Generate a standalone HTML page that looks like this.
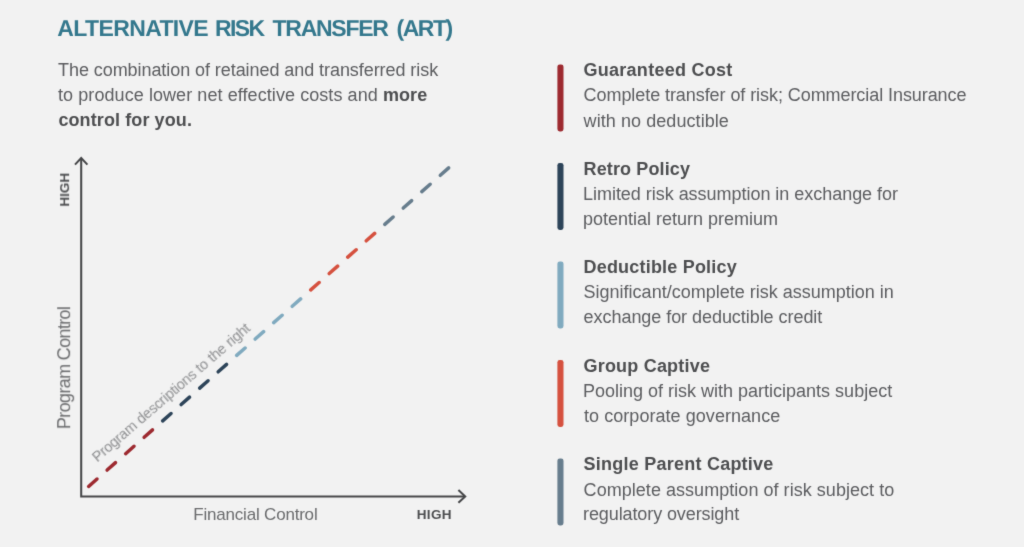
<!DOCTYPE html>
<html lang="en">
<head>
<meta charset="utf-8">
<title>Alternative Risk Transfer (ART)</title>
<style>
  html, body { margin: 0; padding: 0; }
  body {
    width: 1024px; height: 547px; overflow: hidden; position: relative;
    background: #f2f2f2;
    font-family: "Liberation Sans", sans-serif;
    color: #58595b;
  }
  .r { will-change: transform; }
  .t { position: absolute; white-space: nowrap; line-height: 1; margin: 0; padding: 0; }
  .h1 { font-size: 23px; text-rendering: geometricPrecision; font-weight: bold; color: #34788d; }
  .p  { font-size: 18px; color: #5c5d60; }
  .b  { font-weight: bold; color: #4d4e50; }
  .lh { font-size: 18px; letter-spacing: 0.2px; font-weight: bold; color: #4d4e50; }
  .ax { font-size: 17px; color: #6b6c6e; }
  .hi { font-size: 13.5px; font-weight: bold; color: #4d4e50; }
  #stage { position:absolute; left:0; top:0; width:1024px; height:547px; will-change: transform; filter: url(#soft); }
  svg { position: absolute; left: 0; top: 0; }
</style>
</head>
<body>
<svg width="0" height="0" style="position:absolute"><defs><filter id="soft" x="0" y="0" width="100%" height="100%" color-interpolation-filters="sRGB"><feConvolveMatrix order="3" kernelMatrix="0.0113 0.0838 0.0113 0.0838 0.6194 0.0838 0.0113 0.0838 0.0113" divisor="1" edgeMode="duplicate" preserveAlpha="false"/></filter></defs></svg>
<div id="stage">

<div class="t h1" id="h1a" style="left:57.3px; top:17px; letter-spacing:-0.62px;">ALTERNATIVE</div>
<div class="t h1" id="h1b" style="left:215px; top:17px; letter-spacing:-1.6px;">RISK</div>
<div class="t h1" id="h1c" style="left:272.6px; top:17px; letter-spacing:-1.28px;">TRANSFER</div>
<div class="t h1" id="h1d" style="left:396.5px; top:17px; letter-spacing:-1.5px;">(ART)</div>

<div class="t p" id="p1" style="left:58px; top:61px; letter-spacing:-0.065px;">The combination of retained and transferred risk</div>
<div class="t p" id="p2" style="left:58px; top:86px; letter-spacing:0.075px;">to produce lower net effective costs and <span class="b">more</span></div>
<div class="t p b" id="p3" style="left:58.4px; top:111px; letter-spacing:0.1px;">control for you.</div>

<svg width="1024" height="547" viewBox="0 0 1024 547">
  <g fill="none" stroke="#464749" stroke-width="2.05" stroke-linecap="butt" stroke-linejoin="miter">
    <path d="M81.2 158.3 V496.4 H465"/>
    <path d="M75 164.6 L81.2 158.1 L87.4 164.6"/>
    <path d="M458.4 490 L465.2 496.4 L458.4 502.8"/>
  </g>
  <g id="bars">
    <rect x="557.4" y="64.4" width="6.1" height="67" rx="2.3" fill="#9d2a30"/>
    <rect x="557.4" y="162.9" width="6.1" height="67" rx="2.3" fill="#2d4459"/>
    <rect x="557.4" y="261.4" width="6.1" height="67" rx="2.3" fill="#80aabf"/>
    <rect x="557.4" y="359.9" width="6.1" height="67" rx="2.3" fill="#d5513f"/>
    <rect x="557.4" y="458.4" width="6.1" height="67" rx="2.3" fill="#677d8d"/>
  </g>
  <g id="dashes" fill="none" stroke-width="3.5" stroke-linecap="round">
    <path stroke="#9d2a30" d="M88.61 486.44 L97.00 479.02 M107.12 470.06 L115.51 462.64 M125.63 453.69 L134.02 446.27 M144.14 437.31 L152.53 429.89"/>
    <path stroke="#2d4459" d="M162.65 420.93 L171.04 413.51 M181.16 404.56 L189.55 397.13 M199.67 388.18 L208.06 380.76 M218.18 371.80 L226.57 364.38"/>
    <path stroke="#80aabf" d="M236.69 355.43 L245.08 348.00 M255.20 339.05 L263.59 331.63 M273.71 322.67 L282.10 315.25 M292.22 306.30 L300.61 298.87"/>
    <path stroke="#d5513f" d="M310.73 289.92 L319.12 282.50 M329.24 273.54 L337.63 266.12 M347.75 257.17 L356.14 249.74 M366.26 240.79 L374.65 233.37"/>
    <path stroke="#677d8d" d="M384.77 224.41 L393.16 216.99 M403.28 208.03 L411.67 200.61 M421.79 191.66 L430.18 184.24 M440.30 175.28 L448.69 167.86"/>
  </g>
</svg>

<div class="t hi r" id="hiY" style="left:48px; top:182.9px; transform: rotate(-90deg); transform-origin: center;">HIGH</div>
<div class="t ax r" id="axY" style="left:2.9px; top:359.3px; font-size:18px; letter-spacing:-0.65px; transform: rotate(-90deg); transform-origin: center;">Program Control</div>
<div class="t ax" id="axX" style="left:193.3px; top:506px; letter-spacing:-0.2px;">Financial Control</div>
<div class="t hi" id="hiX" style="left:416.8px; top:507.6px; letter-spacing:0.3px;">HIGH</div>
<div class="t r" id="diag" style="left:98.6px; top:449.5px; font-size:14.5px; letter-spacing:-0.27px; word-spacing:0.6px; color:#8e8f91; transform-origin: 0 100%; transform: rotate(-40.8deg);">Program descriptions to the right</div>

<div class="t lh" id="l1h" style="left:583.5px; top:61px; letter-spacing:0.27px;">Guaranteed Cost</div>
<div class="t p" id="l1a" style="left:583.6px; top:86px; letter-spacing:-0.07px;">Complete transfer of risk; Commercial Insurance</div>
<div class="t p" id="l1b" style="left:583.6px; top:112px; letter-spacing:0.07px;">with no deductible</div>

<div class="t lh" id="l2h" style="left:583.5px; top:160px; letter-spacing:0.13px;">Retro Policy</div>
<div class="t p" id="l2a" style="left:583px; top:185px; letter-spacing:-0.03px;">Limited risk assumption in exchange for</div>
<div class="t p" id="l2b" style="left:583px; top:210px;">potential return premium</div>

<div class="t lh" id="l3h" style="left:583.5px; top:258px;">Deductible Policy</div>
<div class="t p" id="l3a" style="left:583.6px; top:283px;">Significant/complete risk assumption in</div>
<div class="t p" id="l3b" style="left:583.6px; top:308px; letter-spacing:-0.05px;">exchange for deductible credit</div>

<div class="t lh" id="l4h" style="left:583.5px; top:357px;">Group Captive</div>
<div class="t p" id="l4a" style="left:583px; top:382px;">Pooling of risk with participants subject</div>
<div class="t p" id="l4b" style="left:584px; top:407px; letter-spacing:0.05px;">to corporate governance</div>

<div class="t lh" id="l5h" style="left:583.5px; top:455px; letter-spacing:0.24px;">Single Parent Captive</div>
<div class="t p" id="l5a" style="left:583.6px; top:481px; letter-spacing:0.04px;">Complete assumption of risk subject to</div>
<div class="t p" id="l5b" style="left:583px; top:505px; letter-spacing:-0.1px;">regulatory oversight</div>

</div>
</body>
</html>
